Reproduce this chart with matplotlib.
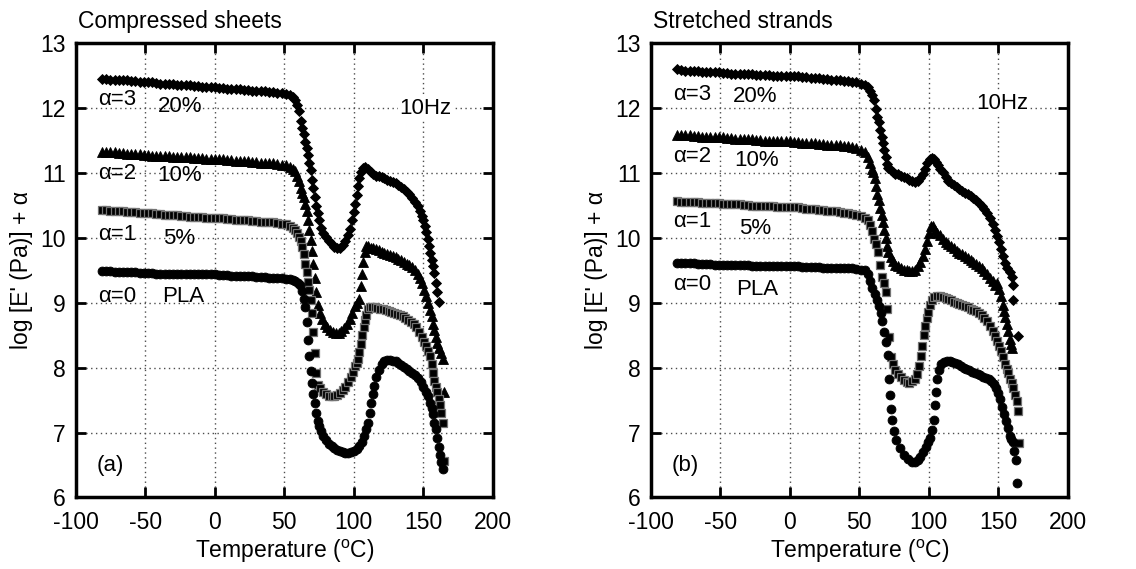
import matplotlib
matplotlib.use("Agg")
import matplotlib.pyplot as plt
import numpy as np

plt.rcParams['font.family'] = ['Liberation Sans', 'DejaVu Sans']
plt.rcParams['mathtext.fontset'] = 'custom'
plt.rcParams['mathtext.rm'] = 'Liberation Sans'
plt.rcParams['axes.unicode_minus'] = False

# temperature grid of the glassy plateau (shared by all curves)
t_flat = [-81, -78, -75, -72, -69, -66, -63, -60, -57, -54, -51, -48, -45, -42, -39, -36,
          -33, -30, -27, -24, -21, -18, -15, -12, -9, -6, -3, 0, 3, 6, 9, 12, 15, 18, 21,
          24, 27, 30, 33, 36, 39, 42, 45, 48, 51, 54]

# ---------------- (a) Compressed sheets ----------------
a3_flat = [12.45, 12.45, 12.44, 12.44, 12.43, 12.43, 12.43, 12.42, 12.42, 12.41, 12.41, 12.40,
           12.40, 12.39, 12.38, 12.38, 12.37, 12.37, 12.36, 12.36, 12.35, 12.35, 12.34, 12.34,
           12.33, 12.33, 12.32, 12.32, 12.31, 12.31, 12.30, 12.30, 12.29, 12.29, 12.28, 12.28,
           12.27, 12.27, 12.26, 12.26, 12.25, 12.25, 12.24, 12.23, 12.22, 12.20]
a3_t = [56, 57.5, 59, 60.5, 62, 63, 64, 65, 66, 67, 68, 69, 70, 71, 72, 73, 74, 75, 76.5, 78,
        80, 82, 84, 86, 88, 90, 92, 94, 96, 97.5, 99, 100, 101, 102, 103, 104, 105, 106.5, 108,
        110, 112, 114, 116, 118, 120, 122, 124, 126, 128, 130, 132, 134, 136, 138, 140, 142,
        144, 146, 147.5, 149, 150, 151, 152, 153, 154, 155, 156, 157, 158, 159, 160, 161]
a3_v = [12.17, 12.12, 12.05, 11.95, 11.80, 11.70, 11.60, 11.48, 11.38, 11.28, 11.15, 11.04,
        10.90, 10.77, 10.63, 10.50, 10.38, 10.27, 10.16, 10.08, 10.01, 9.95, 9.90, 9.86, 9.84,
        9.85, 9.89, 9.95, 10.04, 10.14, 10.28, 10.40, 10.52, 10.66, 10.80, 10.93, 11.02, 11.08,
        11.10, 11.06, 11.01, 10.98, 10.96, 10.95, 10.94, 10.92, 10.90, 10.88, 10.87, 10.85,
        10.82, 10.79, 10.75, 10.71, 10.67, 10.62, 10.56, 10.49, 10.42, 10.34, 10.27, 10.18,
        10.09, 9.99, 9.88, 9.77, 9.66, 9.56, 9.46, 9.30, 9.16, 9.02]

a2_flat = [11.33, 11.33, 11.32, 11.32, 11.31, 11.31, 11.30, 11.30, 11.29, 11.29, 11.28, 11.28,
           11.27, 11.27, 11.27, 11.26, 11.26, 11.25, 11.25, 11.25, 11.24, 11.24, 11.23, 11.23,
           11.23, 11.22, 11.22, 11.22, 11.21, 11.21, 11.20, 11.20, 11.19, 11.19, 11.18, 11.18,
           11.17, 11.17, 11.16, 11.16, 11.15, 11.15, 11.14, 11.13, 11.12, 11.10]
a2_t = [56, 57.5, 59, 60.5, 62, 63, 64, 65, 66, 67, 68, 69, 70, 71, 72, 73, 74, 75.5, 77, 79,
        81, 83, 85, 87, 89, 91, 93, 95, 97, 98.5, 100.5, 102, 103.5, 104.8, 105.8, 106.8, 107.8,
        109, 110.5, 112, 114, 116, 118, 120, 122, 124, 126, 128, 130, 132, 134, 136, 138, 140,
        142, 144, 146, 147.5, 149, 150.5, 152, 153.5, 155, 156, 157, 158, 159, 160, 161, 162.5,
        163.8, 165]
a2_v = [11.07, 11.03, 10.96, 10.88, 10.77, 10.70, 10.63, 10.53, 10.42, 10.28, 10.13, 9.97,
        9.80, 9.60, 9.38, 9.16, 8.97, 8.84, 8.75, 8.67, 8.62, 8.58, 8.55, 8.54, 8.54, 8.56,
        8.61, 8.67, 8.75, 8.84, 8.95, 9.00, 9.06, 9.26, 9.44, 9.63, 9.78, 9.87, 9.87, 9.85,
        9.84, 9.83, 9.81, 9.79, 9.77, 9.76, 9.74, 9.72, 9.70, 9.68, 9.66, 9.63, 9.60, 9.58,
        9.55, 9.51, 9.45, 9.39, 9.30, 9.20, 9.10, 9.00, 8.89, 8.80, 8.68, 8.58, 8.47, 8.38,
        8.30, 8.22, 8.13, 7.62]

a1_flat = [10.43, 10.43, 10.42, 10.42, 10.41, 10.41, 10.40, 10.40, 10.40, 10.39, 10.39, 10.38,
           10.38, 10.37, 10.37, 10.36, 10.36, 10.35, 10.35, 10.34, 10.34, 10.33, 10.33, 10.32,
           10.32, 10.31, 10.31, 10.31, 10.30, 10.30, 10.29, 10.29, 10.28, 10.28, 10.27, 10.27,
           10.26, 10.26, 10.25, 10.25, 10.24, 10.24, 10.23, 10.22, 10.21, 10.19]
a1_t = [56, 57.5, 59, 60.5, 62, 63, 64, 65, 66, 67, 68, 69, 70, 71, 72, 73, 74.5, 76, 78, 80,
        82, 84, 86, 88, 90, 92, 94, 96, 98, 99.5, 101, 102, 103, 104, 105, 106, 107, 108, 109,
        110, 111.5, 113, 115, 117, 119, 121, 123, 125, 127, 129, 131, 133, 135, 137, 139, 141,
        143, 145, 147, 149, 150.5, 152, 153.5, 155, 156, 157, 158, 159, 160, 161, 162, 163,
        164, 165]
a1_v = [10.16, 10.13, 10.08, 10.02, 9.95, 9.86, 9.75, 9.60, 9.47, 9.32, 9.20, 9.05, 8.85,
        8.55, 8.22, 7.92, 7.74, 7.68, 7.63, 7.59, 7.57, 7.56, 7.56, 7.58, 7.61, 7.65, 7.70,
        7.78, 7.86, 7.93, 8.02, 8.08, 8.13, 8.24, 8.36, 8.50, 8.62, 8.74, 8.82, 8.90, 8.93,
        8.94, 8.93, 8.92, 8.91, 8.90, 8.89, 8.87, 8.86, 8.85, 8.83, 8.82, 8.80, 8.77, 8.74,
        8.71, 8.67, 8.62, 8.55, 8.47, 8.40, 8.33, 8.25, 8.18, 8.05, 7.92, 7.80, 7.70, 7.62,
        7.52, 7.42, 7.30, 7.15, 6.56]

a0_flat = [9.49, 9.49, 9.49, 9.48, 9.48, 9.48, 9.47, 9.47, 9.47, 9.46, 9.46, 9.46, 9.46, 9.45,
           9.45, 9.45, 9.45, 9.45, 9.44, 9.44, 9.44, 9.44, 9.44, 9.44, 9.44, 9.44, 9.44, 9.44,
           9.43, 9.43, 9.43, 9.42, 9.42, 9.42, 9.41, 9.41, 9.41, 9.40, 9.40, 9.40, 9.39, 9.39,
           9.39, 9.38, 9.37, 9.36]
a0_t = [56, 58, 60, 61.5, 63, 64, 65, 66, 67, 68, 69, 70, 71, 72, 73, 74, 75, 76.5, 78, 80,
        82, 84, 86, 88, 90, 92, 94, 96, 98, 100, 102, 104, 106, 107.5, 109, 110.5, 111.5,
        112.5, 113.5, 114.5, 116, 118, 120, 122, 124, 126, 128, 130, 132, 134, 136, 138, 140,
        142, 144, 146, 148, 150, 152, 153.5, 155, 156, 157, 158, 159, 160, 161, 162, 163, 164]
a0_v = [9.35, 9.33, 9.31, 9.28, 9.18, 9.06, 8.93, 8.70, 8.42, 8.18, 7.95, 7.76, 7.60, 7.45,
        7.30, 7.18, 7.10, 7.02, 6.94, 6.88, 6.83, 6.79, 6.76, 6.73, 6.71, 6.70, 6.69, 6.69,
        6.70, 6.71, 6.74, 6.79, 6.86, 6.95, 7.05, 7.15, 7.30, 7.45, 7.60, 7.72, 7.85, 7.97,
        8.05, 8.10, 8.12, 8.12, 8.11, 8.10, 8.07, 8.04, 8.01, 7.98, 7.95, 7.92, 7.88, 7.84,
        7.78, 7.70, 7.62, 7.56, 7.46, 7.38, 7.28, 7.15, 7.05, 6.92, 6.78, 6.66, 6.55, 6.44]

# ---------------- (b) Stretched strands ----------------
b3_flat = [12.60, 12.59, 12.58, 12.58, 12.57, 12.57, 12.56, 12.56, 12.55, 12.55, 12.55, 12.54,
           12.54, 12.53, 12.53, 12.53, 12.52, 12.52, 12.52, 12.51, 12.51, 12.51, 12.51, 12.50,
           12.50, 12.50, 12.50, 12.50, 12.49, 12.49, 12.48, 12.48, 12.47, 12.47, 12.46, 12.45,
           12.45, 12.44, 12.44, 12.43, 12.42, 12.42, 12.41, 12.40, 12.38, 12.36]
b3_t = [56, 57.5, 59, 60.5, 62, 63, 64, 65, 66, 67, 68, 69, 70, 71, 72.5, 74, 76, 78, 80, 82,
        84, 86, 88, 90, 92, 94, 96, 97.5, 99, 100.5, 102, 103.5, 105, 106.5, 108, 110, 112, 114,
        116, 118, 120, 122, 124, 126, 128, 130, 132, 134, 136, 138, 140, 142, 144, 146, 147.5,
        149, 150.5, 152, 153.5, 155, 156.5, 158, 159.5, 160.3, 160.8, 164.3]
b3_v = [12.32, 12.27, 12.20, 12.12, 11.98, 11.87, 11.78, 11.66, 11.56, 11.46, 11.35, 11.24,
        11.14, 11.08, 11.04, 11.01, 10.99, 10.98, 10.96, 10.94, 10.92, 10.90, 10.88, 10.87,
        10.88, 10.92, 10.99, 11.07, 11.16, 11.22, 11.23, 11.21, 11.17, 11.12, 11.07, 11.01,
        10.94, 10.88, 10.84, 10.81, 10.78, 10.75, 10.73, 10.70, 10.68, 10.65, 10.62, 10.58,
        10.54, 10.50, 10.45, 10.39, 10.31, 10.22, 10.13, 10.03, 9.94, 9.83, 9.72, 9.62, 9.54,
        9.47, 9.40, 9.27, 9.05, 8.49]

b2_flat = [11.59, 11.59, 11.58, 11.58, 11.57, 11.57, 11.56, 11.56, 11.56, 11.55, 11.55, 11.55,
           11.54, 11.54, 11.53, 11.53, 11.52, 11.52, 11.52, 11.51, 11.51, 11.50, 11.50, 11.50,
           11.49, 11.49, 11.49, 11.49, 11.48, 11.48, 11.47, 11.47, 11.46, 11.46, 11.45, 11.45,
           11.44, 11.44, 11.43, 11.43, 11.42, 11.41, 11.40, 11.38, 11.36, 11.32]
b2_t = [56, 57.5, 59, 60, 61, 62, 63, 64, 65, 66, 67, 68, 69, 70, 71, 72.5, 74, 76, 78, 80, 82,
        84, 86, 88, 90, 92, 94, 95.5, 97, 98.5, 100, 101.5, 103, 104.5, 106, 108, 110, 112, 114,
        116, 118, 120, 122, 124, 126, 128, 130, 132, 134, 136, 138, 140, 142, 144, 146, 147.5,
        149, 150.5, 152, 153, 154, 155, 156, 157, 158, 159, 160]
b2_v = [11.25, 11.15, 11.06, 11.02, 10.92, 10.80, 10.68, 10.58, 10.46, 10.36, 10.25, 10.12,
        10.00, 9.88, 9.78, 9.70, 9.64, 9.59, 9.56, 9.53, 9.51, 9.50, 9.49, 9.49, 9.51, 9.56,
        9.63, 9.72, 9.83, 9.96, 10.08, 10.18, 10.19, 10.12, 10.07, 10.04, 9.98, 9.93, 9.90,
        9.87, 9.84, 9.80, 9.77, 9.75, 9.72, 9.69, 9.66, 9.63, 9.60, 9.56, 9.53, 9.49, 9.44,
        9.39, 9.33, 9.28, 9.30, 9.22, 9.10, 8.97, 8.87, 8.78, 8.68, 8.56, 8.45, 8.36, 8.30]

b1_flat = [10.57, 10.56, 10.56, 10.55, 10.55, 10.55, 10.54, 10.54, 10.54, 10.54, 10.54, 10.53,
           10.53, 10.52, 10.52, 10.52, 10.51, 10.51, 10.50, 10.50, 10.50, 10.49, 10.49, 10.49,
           10.48, 10.48, 10.48, 10.48, 10.47, 10.47, 10.46, 10.45, 10.45, 10.44, 10.43, 10.43,
           10.42, 10.41, 10.41, 10.40, 10.39, 10.38, 10.37, 10.36, 10.34, 10.31]
b1_t = [56, 57.5, 59, 60.5, 62, 63.5, 65, 66.3, 67.9, 69, 70.2, 71.4, 72.6, 74, 76, 78, 80, 82,
        84, 86, 88, 90, 91.5, 93, 94.2, 95.2, 96.4, 97.6, 98.6, 99.5, 100.5, 102, 104, 106, 108,
        110, 112, 114, 116, 118, 120, 122, 124, 126, 128, 130, 132, 134, 136, 138, 140, 142,
        144, 146, 147.6, 149, 150.5, 152, 153.5, 155, 156, 157, 158.3, 159.5, 160.5, 162, 163.3,
        164.2, 165]
b1_v = [10.27, 10.20, 10.10, 9.99, 9.90, 9.78, 9.58, 9.40, 9.31, 9.16, 8.90, 8.47, 8.16, 8.05,
        7.97, 7.91, 7.86, 7.81, 7.78, 7.77, 7.79, 7.83, 7.90, 8.03, 8.18, 8.34, 8.50, 8.65,
        8.77, 8.86, 8.96, 9.05, 9.09, 9.10, 9.10, 9.09, 9.08, 9.06, 9.04, 9.02, 9.00, 8.98,
        8.96, 8.95, 8.93, 8.91, 8.89, 8.87, 8.84, 8.81, 8.76, 8.72, 8.65, 8.57, 8.49, 8.41,
        8.33, 8.25, 8.16, 8.06, 7.98, 7.92, 7.82, 7.76, 7.69, 7.58, 7.48, 7.33, 6.84]

b0_flat = [9.62, 9.62, 9.61, 9.61, 9.61, 9.60, 9.60, 9.60, 9.60, 9.59, 9.59, 9.59, 9.59, 9.58,
           9.58, 9.58, 9.58, 9.58, 9.57, 9.57, 9.57, 9.57, 9.57, 9.56, 9.56, 9.56, 9.56, 9.56,
           9.56, 9.56, 9.55, 9.55, 9.55, 9.55, 9.55, 9.54, 9.54, 9.54, 9.54, 9.54, 9.53, 9.53,
           9.53, 9.52, 9.51, 9.50]
b0_t = [56, 57.5, 59, 61, 63, 64.5, 65.5, 66.5, 67.9, 69, 70.4, 71.2, 71.8, 72.8, 73.8, 74.8,
        76.5, 79, 82, 85, 88, 90, 92, 94, 96, 98, 99.5, 101, 102.5, 103.5, 104.2, 105, 106,
        107.5, 109, 111, 113, 115, 117, 119, 121, 123, 125, 127, 129, 131, 133, 135, 137, 139,
        141, 143, 145, 146.5, 148, 149.5, 151, 152.5, 154, 155.5, 157, 158.3, 159.3, 160.3,
        161.4, 162.4, 163.5]
b0_v = [9.44, 9.34, 9.23, 9.13, 9.05, 8.95, 8.85, 8.72, 8.55, 8.40, 8.20, 7.82, 7.58, 7.37,
        7.20, 7.02, 6.88, 6.76, 6.66, 6.60, 6.55, 6.54, 6.57, 6.62, 6.70, 6.78, 6.86, 6.92,
        7.04, 7.20, 7.42, 7.62, 7.82, 7.96, 8.05, 8.09, 8.11, 8.10, 8.09, 8.07, 8.05, 8.02,
        8.00, 7.98, 7.96, 7.94, 7.92, 7.90, 7.88, 7.86, 7.84, 7.82, 7.79, 7.75, 7.68, 7.61,
        7.52, 7.40, 7.29, 7.18, 7.07, 6.95, 6.90, 6.85, 6.72, 6.58, 6.23]

x_ticks = [-100, -50, 0, 50, 100, 150, 200]
y_ticks = [6, 7, 8, 9, 10, 11, 12, 13]

# marker style per curve (alpha = 3, 2, 1, 0)
styles = [dict(marker='D', ms=5.6, mfc='k', mec='k', mew=0.6),
          dict(marker='^', ms=6.6, mfc='k', mec='k', mew=0.6),
          dict(marker='s', ms=6.0, mfc='k', mec='0.45', mew=0.9),
          dict(marker='o', ms=6.4, mfc='k', mec='k', mew=0.6)]

FS = 16.5   # ticks, axis labels, titles
FS_IN = 16  # labels inside the axes


def draw_panel(ax, curves, title, tag, lab_y, pct_y, pct_x, hz_xy):
    for (tt, vv), st in zip(curves, styles):
        ax.plot(tt, vv, ls='none', zorder=3, **st)

    ax.set_xlim(-100, 200)
    ax.set_ylim(6, 13)
    ax.set_xticks(x_ticks)
    ax.set_yticks(y_ticks)
    ax.grid(True, color='0.3', ls=(0, (1, 2.5)), lw=1.0)
    ax.tick_params(direction='in', top=True, right=True, length=7, width=2,
                   labelsize=FS)
    ax.tick_params(axis='x', pad=9.5)
    ax.tick_params(axis='y', pad=7)
    for s in ax.spines.values():
        s.set_linewidth(2.5)
    ax.set_xlabel('Temperature ($^{\\mathrm{o}}$C)', fontsize=FS, labelpad=3)
    ax.set_ylabel("log [E' (Pa)] + \u03b1", fontsize=FS, labelpad=5)

    ax.text(0.006, 1.033, title, transform=ax.transAxes, fontsize=FS,
            ha='left', va='baseline')

    names = ['\u03b1=3', '\u03b1=2', '\u03b1=1', '\u03b1=0']
    pcts = ['20%', '10%', '5%', 'PLA']
    for n, p, ly, py, px in zip(names, pcts, lab_y, pct_y, pct_x):
        ax.text(-84, ly, n, fontsize=FS_IN, ha='left', va='center', zorder=4)
        ax.text(px, py, p, fontsize=FS_IN, ha='left', va='center', zorder=4)
    ax.text(-85, 6.5, tag, fontsize=FS_IN, ha='left', va='center')
    ax.text(hz_xy[0], hz_xy[1], '10Hz', fontsize=FS_IN, ha='center', va='center', zorder=4,
            bbox=dict(facecolor='white', edgecolor='none', pad=1))


fig = plt.figure(figsize=(11.36, 5.69), dpi=100)
ax1 = fig.add_axes([0.0666, 0.1257, 0.3673, 0.7982])
ax2 = fig.add_axes([0.5727, 0.1257, 0.3674, 0.7982])

curves_a = [(t_flat + a3_t, a3_flat + a3_v), (t_flat + a2_t, a2_flat + a2_v),
            (t_flat + a1_t, a1_flat + a1_v), (t_flat + a0_t, a0_flat + a0_v)]
curves_b = [(t_flat + b3_t, b3_flat + b3_v), (t_flat + b2_t, b2_flat + b2_v),
            (t_flat + b1_t, b1_flat + b1_v), (t_flat + b0_t, b0_flat + b0_v)]

draw_panel(ax1, curves_a, 'Compressed sheets', '(a)',
           [12.13, 10.99, 10.05, 9.09], [12.02, 10.96, 9.99, 9.09],
           [-41, -41, -37, -38], (151.5, 12.0))
draw_panel(ax2, curves_b, 'Stretched strands', '(b)',
           [12.21, 11.25, 10.25, 9.29], [12.18, 11.19, 10.14, 9.20],
           [-41, -40, -36.5, -38.5], (153, 12.07))

fig.savefig('out.png', dpi=100)
